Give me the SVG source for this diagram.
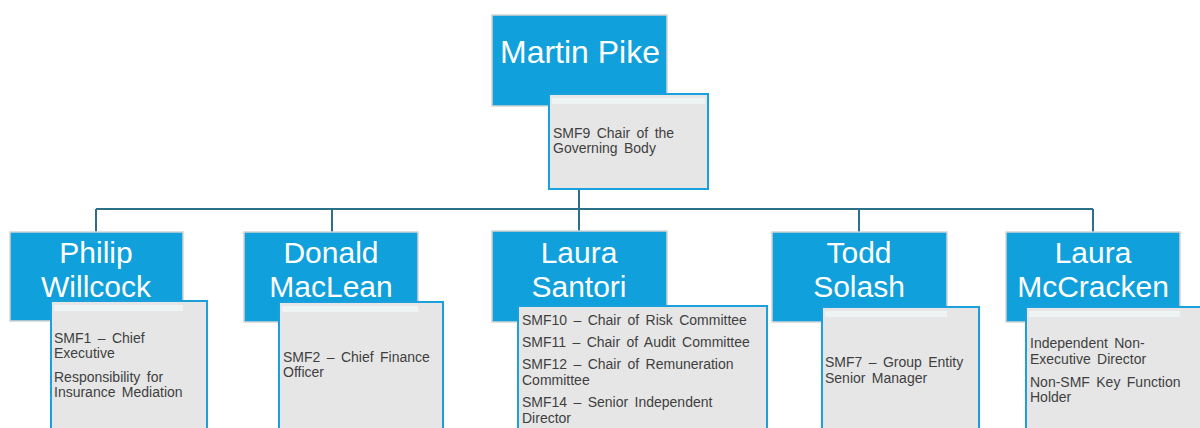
<svg xmlns="http://www.w3.org/2000/svg" width="1200" height="428" viewBox="0 0 1200 428">
<style>
.name{fill:#10a0dc;stroke:#d4d4d4;stroke-width:1.5}
.desc{fill:#e6e6e6;stroke:#1aa0dc;stroke-width:2}
.hl{fill:#f4fbfd;opacity:0.6}
.nt{font-family:"Liberation Sans",Arial,sans-serif;font-size:30px;fill:#ffffff;text-anchor:middle}
.dt{font-family:"Liberation Sans",Arial,sans-serif;font-size:14px;fill:#3f3f3f;word-spacing:2.5px}
.conn{stroke:#2b7088;stroke-width:2;fill:none}
</style>
<rect width="1200" height="428" fill="#ffffff"/>
<g id="connectors">
<path class="conn" d="M579 189V209M96 209H1093M96 209V232M332 209V232M579 209V231M859 209V232M1093 209V232"/>
</g>
<g id="martin-pike">
<rect class="name" x="492" y="15" width="175" height="91"/>
<text class="nt" x="580" y="63" style="font-size:32px">Martin Pike</text>
<rect class="desc" x="549" y="94" width="159" height="95"/>
<rect class="hl" x="552" y="98" width="153" height="6"/>
<text class="dt" x="553" y="138">SMF9 Chair of the</text>
<text class="dt" x="553" y="153">Governing Body</text>
</g>
<g id="philip-willcock">
<rect class="name" x="10" y="232" width="173" height="89"/>
<text class="nt" x="96" y="263">Philip</text>
<text class="nt" x="96" y="297">Willcock</text>
<rect class="desc" x="51" y="301" width="156" height="140"/>
<rect class="hl" x="54" y="305" width="129" height="6"/>
<text class="dt" x="54" y="343">SMF1 – Chief</text>
<text class="dt" x="54" y="358">Executive</text>
<text class="dt" x="54" y="382">Responsibility for</text>
<text class="dt" x="54" y="397">Insurance Mediation</text>
</g>
<g id="donald-maclean">
<rect class="name" x="244" y="232" width="174" height="90"/>
<text class="nt" x="331" y="263">Donald</text>
<text class="nt" x="331" y="297">MacLean</text>
<rect class="desc" x="279" y="302" width="164" height="140"/>
<rect class="hl" x="282" y="306" width="136" height="6"/>
<text class="dt" x="283" y="362">SMF2 – Chief Finance</text>
<text class="dt" x="283" y="377">Officer</text>
</g>
<g id="laura-santori">
<rect class="name" x="492" y="231" width="175" height="91"/>
<text class="nt" x="579" y="263">Laura</text>
<text class="nt" x="579" y="297">Santori</text>
<rect class="desc" x="518" y="306" width="249" height="140"/>
<text class="dt" x="522" y="325">SMF10 – Chair of Risk Committee</text>
<text class="dt" x="522" y="347">SMF11 – Chair of Audit Committee</text>
<text class="dt" x="522" y="369">SMF12 – Chair of Remuneration</text>
<text class="dt" x="522" y="385">Committee</text>
<text class="dt" x="522" y="407">SMF14 – Senior Independent</text>
<text class="dt" x="522" y="423">Director</text>
</g>
<g id="todd-solash">
<rect class="name" x="772" y="232" width="175" height="90"/>
<text class="nt" x="859" y="263">Todd</text>
<text class="nt" x="859" y="297">Solash</text>
<rect class="desc" x="822" y="307" width="157" height="140"/>
<rect class="hl" x="825" y="311" width="122" height="6"/>
<text class="dt" x="825" y="367">SMF7 – Group Entity</text>
<text class="dt" x="825" y="383">Senior Manager</text>
</g>
<g id="laura-mccracken">
<rect class="name" x="1006" y="232" width="174" height="90"/>
<text class="nt" x="1093" y="263">Laura</text>
<text class="nt" x="1093" y="297">McCracken</text>
<rect class="desc" x="1026" y="307" width="190" height="140"/>
<rect class="hl" x="1029" y="311" width="151" height="6"/>
<text class="dt" x="1030" y="348">Independent Non-</text>
<text class="dt" x="1030" y="364">Executive Director</text>
<text class="dt" x="1030" y="387">Non-SMF Key Function</text>
<text class="dt" x="1030" y="402">Holder</text>
</g>
</svg>
